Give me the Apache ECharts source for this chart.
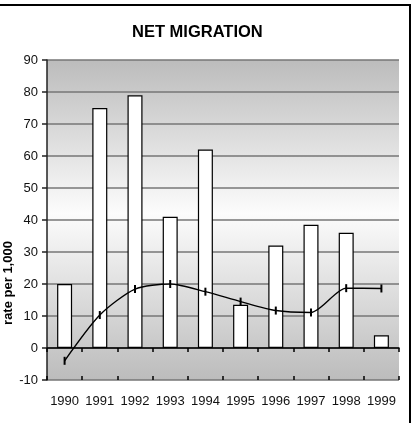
<!DOCTYPE html>
<html>
<head>
<meta charset="utf-8">
<script src="https://cdn.jsdelivr.net/npm/echarts@6/dist/echarts.min.js"></script>
<style>
  html, body { margin: 0; padding: 0; background: #fff; }
  #main { width: 420px; height: 423px; }
</style>
</head>
<body>
<div id="main"></div>
<script>
// data
var years = ['1990', '1991', '1992', '1993', '1994', '1995', '1996', '1997', '1998', '1999'];
var barValues = [20, 75, 79, 41, 62, 13.5, 32, 38.5, 36, 4];
var lineValues = [-4, 10.3, 18.4, 20, 17.6, 14.5, 11.7, 11.1, 18.7, 18.6];
var yTicks = { min: -10, max: 90, step: 10 };

var myChart = echarts.init(document.getElementById('main'));

var font = 'Liberation Sans, Arial, sans-serif';

var option = {
    animation: false,
    backgroundColor: '#fff',
    title: {
        text: 'NET MIGRATION',
        left: 132,
        top: 24,
        padding: 0,
        textStyle: { fontFamily: font, fontSize: 16.5, fontWeight: 'bold', color: '#000' }
    },
    grid: {
        left: 47,
        right: 21,
        top: 60,
        bottom: 43,
        show: true,
        borderWidth: 0,
        backgroundColor: {
            type: 'linear', x: 0, y: 0, x2: 0, y2: 1,
            colorStops: [
                { offset: 0, color: '#bcbcbc' },
                { offset: 0.48, color: '#fcfcfc' },
                { offset: 1, color: '#bcbcbc' }
            ]
        }
    },
    xAxis: [
        {
            // labels along the bottom of the plot
            type: 'category',
            data: years,
            position: 'bottom',
            axisLine: { show: false, onZero: false },
            axisTick: { show: false },
            axisLabel: { interval: 0, margin: 15, fontFamily: font, fontSize: 13, color: '#111' }
        },
        {
            // zero line with ticks below
            type: 'category',
            data: years,
            position: 'bottom',
            axisLine: { show: true, onZero: true, lineStyle: { color: '#000', width: 1.5 } },
            axisTick: { show: true, interval: 0, inside: false, length: 4, lineStyle: { color: '#000', width: 1.5 } },
            axisLabel: { show: false }
        },
        {
            // ticks above the zero line
            type: 'category',
            data: years,
            position: 'bottom',
            axisLine: { show: false, onZero: true },
            axisTick: { show: true, interval: 0, inside: true, length: 4, lineStyle: { color: '#000', width: 1.5 } },
            axisLabel: { show: false }
        }
    ],
    yAxis: {
        type: 'value',
        min: yTicks.min,
        max: yTicks.max,
        interval: yTicks.step,
        axisLine: { show: true, lineStyle: { color: '#222', width: 1.5 } },
        axisTick: { show: true, length: 5, lineStyle: { color: '#222', width: 1.5 } },
        axisLabel: { margin: 9, fontFamily: font, fontSize: 13, color: '#111' },
        splitLine: { show: true, lineStyle: { color: '#767676', width: 1.5 } }
    },
    graphic: [
        {
            type: 'polyline',
            shape: { points: [[0, 5], [410, 5], [410, 423]] },
            style: { stroke: '#000', lineWidth: 2, fill: null }
        },
        {
            type: 'text',
            x: 8,
            y: 283,
            rotation: Math.PI / 2,
            style: {
                text: 'rate per 1,000',
                font: 'bold 13px ' + font,
                fill: '#000',
                align: 'center',
                verticalAlign: 'middle'
            }
        }
    ],
    series: [
        {
            name: 'net migration',
            type: 'bar',
            xAxisIndex: 1,
            data: barValues,
            barWidth: 15,
            itemStyle: { color: '#fff', borderColor: '#000', borderWidth: 1.2 }
        },
        {
            name: 'rate',
            type: 'line',
            xAxisIndex: 1,
            data: lineValues,
            smooth: 0.25,
            symbol: 'rect',
            symbolSize: [2, 8],
            itemStyle: { color: '#000' },
            lineStyle: { color: '#000', width: 1.4 }
        }
    ]
};

myChart.setOption(option);
</script>
</body>
</html>
